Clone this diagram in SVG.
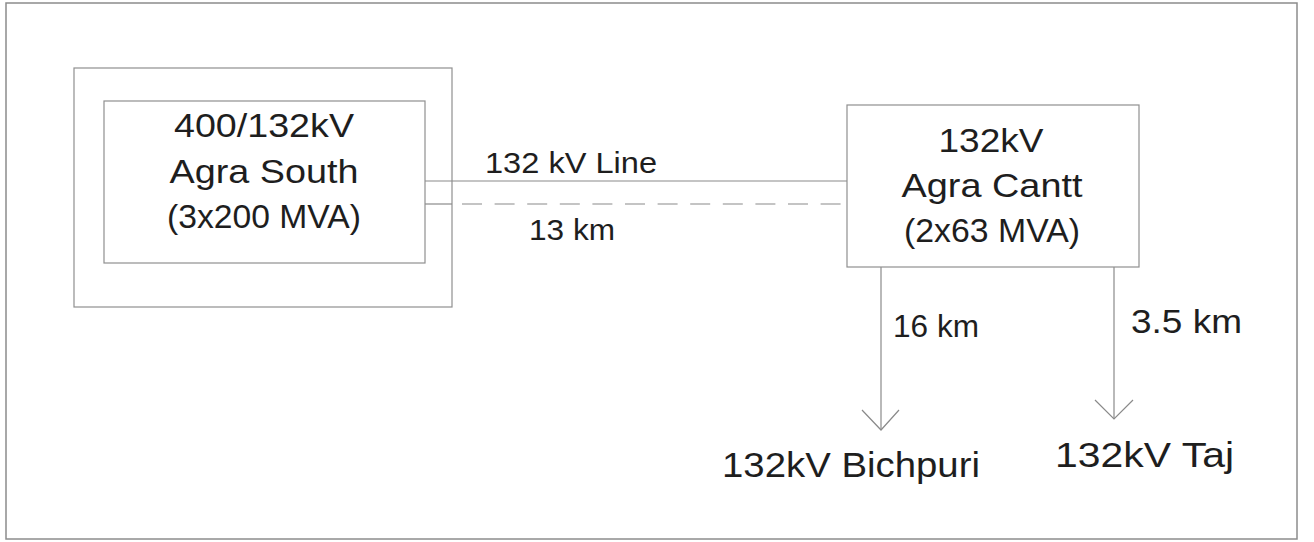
<svg xmlns="http://www.w3.org/2000/svg" width="1314" height="542" viewBox="0 0 1314 542">
<style>
.frame{fill:none;stroke:#8c8c8c;stroke-width:1.5}
.box{fill:#fff;stroke:#8f8f8f;stroke-width:1.2}
.wire{fill:none;stroke:#8a8a8a;stroke-width:1.2}
.t{font-family:"Liberation Sans",Arial,sans-serif;fill:#1e1e1e}
.big{font-size:33px}
.lbl{font-size:30px}
</style>
<rect x="0" y="0" width="1314" height="542" fill="#fff"/>
<rect class="frame" x="6" y="3" width="1291" height="536"/>
<g id="agra-south-outer">
<rect class="box" x="74" y="68" width="378" height="239"/>
</g>
<g id="connectors">
<line class="wire" x1="425" y1="181" x2="847" y2="181"/>
<line class="wire" x1="425" y1="204" x2="452" y2="204"/>
<line class="wire" x1="462" y1="204" x2="847" y2="204" stroke-dasharray="20 12.6"/>
<line class="wire" x1="881" y1="267" x2="881" y2="430"/>
<polyline class="wire" points="862,410 881,430 899,410"/>
<line class="wire" x1="1114" y1="267" x2="1114" y2="419"/>
<polyline class="wire" points="1095,400 1114,419 1133,400"/>
</g>
<g id="agra-south">
<rect class="box" x="104" y="101" width="321" height="162"/>
<text class="t big" x="264" y="137" text-anchor="middle" textLength="180" lengthAdjust="spacingAndGlyphs">400/132kV</text>
<text class="t big" x="264" y="183" text-anchor="middle" textLength="189" lengthAdjust="spacingAndGlyphs">Agra South</text>
<text class="t big" x="264" y="228" text-anchor="middle" textLength="194" lengthAdjust="spacingAndGlyphs">(3x200 MVA)</text>
</g>
<g id="agra-cantt">
<rect class="box" x="847" y="105" width="292" height="162"/>
<text class="t big" x="991" y="152" text-anchor="middle" textLength="105" lengthAdjust="spacingAndGlyphs">132kV</text>
<text class="t big" x="992" y="197" text-anchor="middle" textLength="181" lengthAdjust="spacingAndGlyphs">Agra Cantt</text>
<text class="t big" x="992" y="242" text-anchor="middle" textLength="176" lengthAdjust="spacingAndGlyphs">(2x63 MVA)</text>
</g>
<g id="line-labels">
<text class="t lbl" x="485" y="173" textLength="172" lengthAdjust="spacingAndGlyphs">132 kV Line</text>
<text class="t lbl" x="529" y="240" textLength="86" lengthAdjust="spacingAndGlyphs">13 km</text>
<text class="t" font-size="31" x="893" y="337" textLength="86" lengthAdjust="spacingAndGlyphs">16 km</text>
<text class="t" font-size="33" x="1131" y="333" textLength="111" lengthAdjust="spacingAndGlyphs">3.5 km</text>
</g>
<g id="bichpuri">
<text class="t" font-size="35" x="722" y="477" textLength="258" lengthAdjust="spacingAndGlyphs">132kV Bichpuri</text>
</g>
<g id="taj">
<text class="t" font-size="35" x="1055" y="467" textLength="179" lengthAdjust="spacingAndGlyphs">132kV Taj</text>
</g>
</svg>
